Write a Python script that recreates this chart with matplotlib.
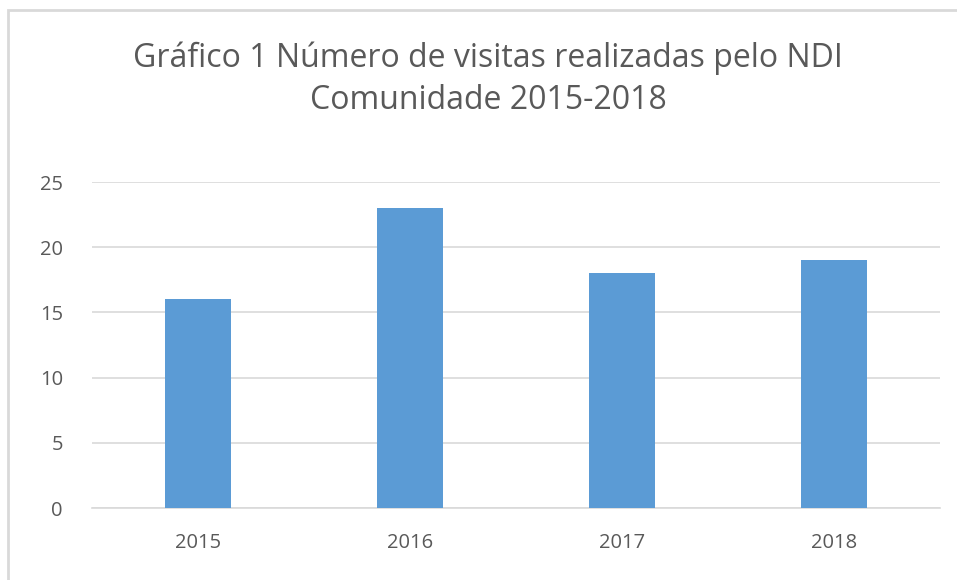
import matplotlib.pyplot as plt
from matplotlib.patches import Rectangle

years = ['2015', '2016', '2017', '2018']
visits = [16, 23, 18, 19]
y_ticks = [0, 5, 10, 15, 20, 25]

title = 'Gráfico 1 Número de visitas realizadas pelo NDI\nComunidade 2015-2018'

W, H = 957, 580
fig = plt.figure(figsize=(W / 100, H / 100), dpi=100)
plt.rcParams['font.family'] = ['Open Sans', 'DejaVu Sans']

# chart border (only left/top visible in the crop)
fig.patches.append(Rectangle((8 / W, -0.1), 1.2, (H - 10) / H + 0.1,
                             transform=fig.transFigure, fill=False,
                             edgecolor='#d9d9d9', linewidth=2))

ax = fig.add_axes([92 / W, (H - 508) / H, (940 - 92) / W, (508 - 182) / H])
x = range(len(years))
ax.bar(x, visits, width=0.31, color='#5b9bd5', zorder=3)
ax.set_xlim(-0.5, len(years) - 0.5)
ax.set_ylim(0, 25)
ax.set_yticks(y_ticks)
ax.set_xticks(list(x))
ax.set_xticklabels(years)
ax.grid(axis='y', color='#d9d9d9', linewidth=1.2, zorder=0)
for s in ['top', 'right', 'left']:
    ax.spines[s].set_visible(False)
ax.spines['bottom'].set_color('#d9d9d9')
ax.spines['bottom'].set_linewidth(1.2)
ax.tick_params(length=0, labelsize=14.5, colors='#595959', pad=18)
ax.tick_params(axis='y', pad=21)

fig.text(488 / W, 1 - 79 / H, title, ha='center', va='center',
         fontsize=23, color='#595959', linespacing=1.35)

fig.savefig('out.png', dpi=100)
